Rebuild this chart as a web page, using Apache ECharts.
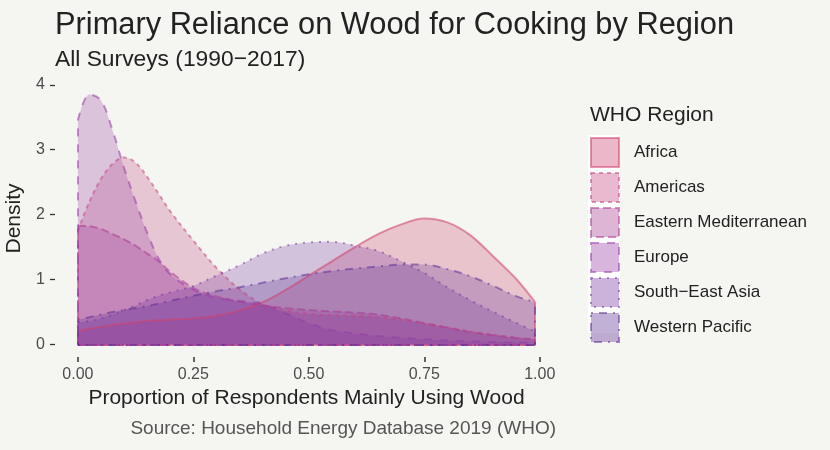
<!DOCTYPE html>
<html>
<head>
<meta charset="utf-8">
<script src="https://cdn.jsdelivr.net/npm/echarts@6/dist/echarts.min.js"></script>
<style>
  html, body { margin: 0; padding: 0; background: #f5f5f1; }
  #chart { width: 830px; height: 450px; }
</style>
</head>
<body>
<div id="chart"></div>
<script>
// density estimates, x = proportion using wood
const xs = [0, 0.025, 0.05, 0.075, 0.1, 0.125, 0.15, 0.175, 0.2, 0.25, 0.3, 0.35, 0.4,
            0.45, 0.5, 0.55, 0.6, 0.65, 0.7, 0.75, 0.8, 0.85, 0.9, 0.95, 0.99];

const regions = ['Africa', 'Americas', 'Eastern Mediterranean', 'Europe', 'South\u2212East Asia', 'Western Pacific'];

const africa   = [0.20, 0.24, 0.27, 0.30, 0.32, 0.34, 0.36, 0.37, 0.38, 0.40, 0.44, 0.52, 0.65,
                  0.84, 1.06, 1.28, 1.50, 1.70, 1.85, 1.94, 1.88, 1.68, 1.35, 1.00, 0.65];
const americas = [1.75, 2.20, 2.55, 2.78, 2.88, 2.80, 2.58, 2.32, 2.05, 1.60, 1.18, 0.85, 0.62,
                  0.52, 0.47, 0.45, 0.44, 0.42, 0.38, 0.32, 0.26, 0.20, 0.15, 0.10, 0.07];
const eastMed  = [1.83, 1.82, 1.78, 1.70, 1.62, 1.52, 1.40, 1.28, 1.12, 0.87, 0.74, 0.66, 0.60,
                  0.56, 0.53, 0.51, 0.49, 0.46, 0.40, 0.33, 0.26, 0.19, 0.14, 0.10, 0.08];
const europe   = [3.45, 3.85, 3.76, 3.30, 2.72, 2.20, 1.72, 1.32, 1.08, 0.84, 0.72, 0.67, 0.62,
                  0.48, 0.33, 0.22, 0.17, 0.13, 0.10, 0.08, 0.06, 0.05, 0.04, 0.03, 0.03];
const seAsia   = [0.34, 0.36, 0.40, 0.46, 0.53, 0.60, 0.68, 0.75, 0.80, 0.90, 1.06, 1.22, 1.40,
                  1.52, 1.57, 1.58, 1.52, 1.44, 1.28, 1.10, 0.88, 0.68, 0.50, 0.33, 0.20];
const wPacific = [0.38, 0.42, 0.46, 0.50, 0.53, 0.56, 0.59, 0.63, 0.67, 0.75, 0.82, 0.88, 0.95,
                  1.02, 1.08, 1.13, 1.17, 1.20, 1.23, 1.23, 1.16, 1.05, 0.90, 0.74, 0.65];

const densities = [africa, americas, eastMed, europe, seAsia, wPacific];

const xTicks = [0, 0.25, 0.5, 0.75, 1];
const yTicks = [0, 1, 2, 3, 4];

const colors = [[205, 65, 110], [195, 70, 130], [172, 60, 145], [150, 60, 165], [120, 55, 160], [95, 50, 150]];
// ggplot linetypes: solid, 22, 42, 44, 13, 1343
const dashes = ['solid', [4, 4], [8, 4], [8, 8], [2, 6], [2, 6, 8, 6]];

const rgba = (c, a) => 'rgba(' + c.join(',') + ',' + a + ')';
const font = 'Liberation Sans, Arial, sans-serif';
const fillAlpha = 0.38;

const series = regions.map((name, i) => {
  const vals = densities[i];
  const x0 = xs[0], x1 = xs[xs.length - 1];
  const line = { color: rgba(colors[i], 0.55), width: 2, type: dashes[i] };
  return {
    name: name,
    type: 'line',
    data: xs.map((x, k) => [x, vals[k]]),
    smooth: 0.35,
    showSymbol: false,
    symbol: 'none',
    lineStyle: line,
    areaStyle: { color: rgba(colors[i], fillAlpha), origin: 'auto' },
    markLine: {
      silent: true,
      symbol: 'none',
      animation: false,
      label: { show: false },
      lineStyle: line,
      data: [
        [{ coord: [x0, 0] }, { coord: [x0, vals[0]] }],
        [{ coord: [x1, 0] }, { coord: [x1, vals[vals.length - 1]] }],
        [{ coord: [x0, 0] }, { coord: [x1, 0] }]
      ]
    }
  };
});

// white key backgrounds behind the legend swatches
const keyBacks = regions.map((r, i) => ({
  type: 'rect',
  shape: { x: 588, y: 135 + i * 33, width: 32, height: 33 },
  style: { fill: '#ffffff' },
  silent: true
}));

const chart = echarts.init(document.getElementById('chart'));
chart.setOption({
  backgroundColor: '#f5f5f1',
  animation: false,
  textStyle: { fontFamily: font },
  title: [
    { text: 'Primary Reliance on Wood for Cooking by Region', left: 55, top: 10, padding: 0,
      textStyle: { fontSize: 30.8, fontWeight: 'normal', color: '#222', fontFamily: font } },
    { text: 'All Surveys (1990\u22122017)', left: 55, top: 48, padding: 0,
      textStyle: { fontSize: 22.8, fontWeight: 'normal', color: '#222', fontFamily: font } },
    { text: 'WHO Region', left: 590, top: 105, padding: 0,
      textStyle: { fontSize: 21, fontWeight: 'normal', color: '#222', fontFamily: font } },
    { text: 'Source: Household Energy Database 2019 (WHO)', right: 274, top: 419, padding: 0,
      textStyle: { fontSize: 19, fontWeight: 'normal', color: '#555', fontFamily: font } }
  ],
  graphic: keyBacks,
  legend: {
    orient: 'vertical',
    left: 590,
    top: 137,
    padding: 0,
    itemWidth: 28,
    itemHeight: 29,
    itemGap: 4,
    selectedMode: false,
    textStyle: { fontSize: 17, color: '#222', fontFamily: font, padding: [0, 0, 0, 10] },
    data: regions.map((name, i) => ({
      name: name,
      icon: 'rect',
      itemStyle: {
        color: rgba(colors[i], fillAlpha),
        borderColor: rgba(colors[i], 0.55),
        borderWidth: 2,
        borderType: dashes[i]
      }
    }))
  },
  grid: { left: 55, right: 272, top: 80, bottom: 93, outerBoundsMode: 'none', containLabel: false },
  xAxis: {
    type: 'value',
    min: -0.0495,
    max: 1.0395,
    name: 'Proportion of Respondents Mainly Using Wood',
    nameLocation: 'middle',
    nameGap: 31,
    nameTextStyle: { fontSize: 21, color: '#222', fontFamily: font },
    axisLine: { show: true, onZero: false, lineStyle: { color: 'rgba(0,0,0,0)' } },
    splitLine: { show: false },
    axisTick: { show: true, inside: false, length: 5, customValues: xTicks,
      lineStyle: { color: '#333', width: 1.5 } },
    axisLabel: { customValues: xTicks, margin: 10, fontSize: 16, color: '#4d4d4d', fontFamily: font,
      formatter: v => v.toFixed(2) }
  },
  yAxis: {
    type: 'value',
    min: -0.194,
    max: 4.074,
    name: 'Density',
    nameLocation: 'middle',
    nameGap: 12,
    nameRotate: 90,
    nameTextStyle: { fontSize: 21, color: '#222', fontFamily: font },
    axisLine: { show: false, onZero: false },
    splitLine: { show: false },
    axisTick: { show: true, length: 5, customValues: yTicks, lineStyle: { color: '#333', width: 1.3 } },
    axisLabel: { customValues: yTicks, margin: 10, fontSize: 16, color: '#4d4d4d', fontFamily: font }
  },
  series: series
});
</script>
</body>
</html>
